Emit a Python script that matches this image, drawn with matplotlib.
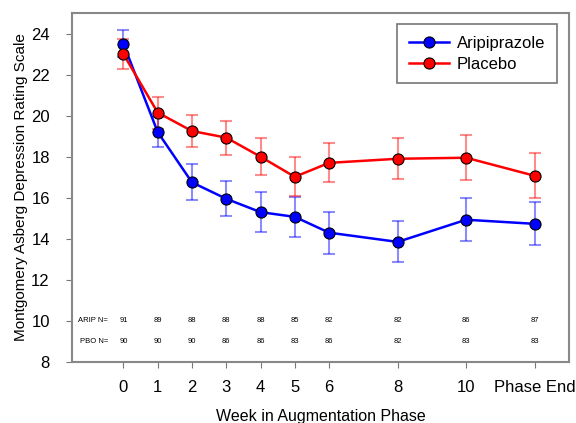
import numpy as np
import matplotlib.pyplot as plt

plt.rcParams['font.family'] = ['Liberation Sans', 'DejaVu Sans']

# x positions: weeks, with "Phase End" drawn at 12
weeks = [0, 1, 2, 3, 4, 5, 6, 8, 10, 12]
week_labels = ['0', '1', '2', '3', '4', '5', '6', '8', '10', 'Phase End']

arip_mean = [23.5, 19.2, 16.75, 15.95, 15.3, 15.07, 14.3, 13.85, 14.93, 14.73]
arip_err = [0.65, 0.73, 0.88, 0.85, 0.98, 0.98, 1.02, 1.0, 1.05, 1.05]
pbo_mean = [23.0, 20.15, 19.25, 18.93, 18.0, 17.02, 17.7, 17.9, 17.95, 17.07]
pbo_err = [0.73, 0.78, 0.8, 0.83, 0.9, 0.95, 0.95, 1.0, 1.1, 1.1]

arip_n = [91, 89, 88, 88, 88, 85, 82, 82, 86, 87]
pbo_n = [90, 90, 90, 86, 86, 83, 86, 82, 83, 83]

fig = plt.figure(figsize=(5.76, 4.23), dpi=100)
ax = fig.add_axes([72 / 576, 1 - 362 / 423, 497 / 576, 349 / 423])

# error bars drawn lighter, lines and markers on top
ax.errorbar(weeks, arip_mean, yerr=arip_err, fmt='none', ecolor='blue',
            alpha=0.45, elinewidth=1.5, capsize=4, capthick=1.5, zorder=2)
ax.errorbar(weeks, pbo_mean, yerr=pbo_err, fmt='none', ecolor='red',
            alpha=0.45, elinewidth=1.5, capsize=4, capthick=1.5, zorder=2)
ax.plot(weeks, arip_mean, '-o', color='blue', lw=1.8, ms=8,
        mfc='blue', mec='black', mew=0.8, label='Aripiprazole', zorder=3)
ax.plot(weeks, pbo_mean, '-o', color='red', lw=1.8, ms=8,
        mfc='red', mec='black', mew=0.8, label='Placebo', zorder=4)

# sample sizes along the bottom
ax.text(-0.45, 10, 'ARIP N=', fontsize=5.5, ha='right', va='center')
ax.text(-0.45, 9, 'PBO N=', fontsize=5.5, ha='right', va='center')
for x, a, p in zip(weeks, arip_n, pbo_n):
    ax.text(x, 10, str(a), fontsize=5.5, ha='center', va='center')
    ax.text(x, 9, str(p), fontsize=5.5, ha='center', va='center')

ax.set_xlim(-1.5, 13)
ax.set_ylim(8, 25)
ax.set_xticks(weeks)
ax.set_xticklabels(week_labels, fontsize=12)
ax.set_yticks(np.arange(8, 25, 2))
ax.tick_params(axis='y', labelsize=12, length=4, pad=12, color='#777777')
ax.tick_params(axis='x', length=4, pad=9, color='#777777')
for s in ax.spines.values():
    s.set_color('#888888')
    s.set_linewidth(1.5)

ax.set_xlabel('Week in Augmentation Phase', fontsize=11.5, labelpad=10)
ax.set_ylabel('Montgomery Asberg Depression Rating Scale', fontsize=11, labelpad=2)

leg = ax.legend(loc='upper right', fontsize=12, fancybox=False,
                edgecolor='#555555', borderpad=0.7, handlelength=2.4,
                handletextpad=0.5, labelspacing=0.35, borderaxespad=0,
                bbox_to_anchor=(0.976, 0.968))
leg.get_frame().set_linewidth(1.2)

fig.savefig('out.png', dpi=100)
